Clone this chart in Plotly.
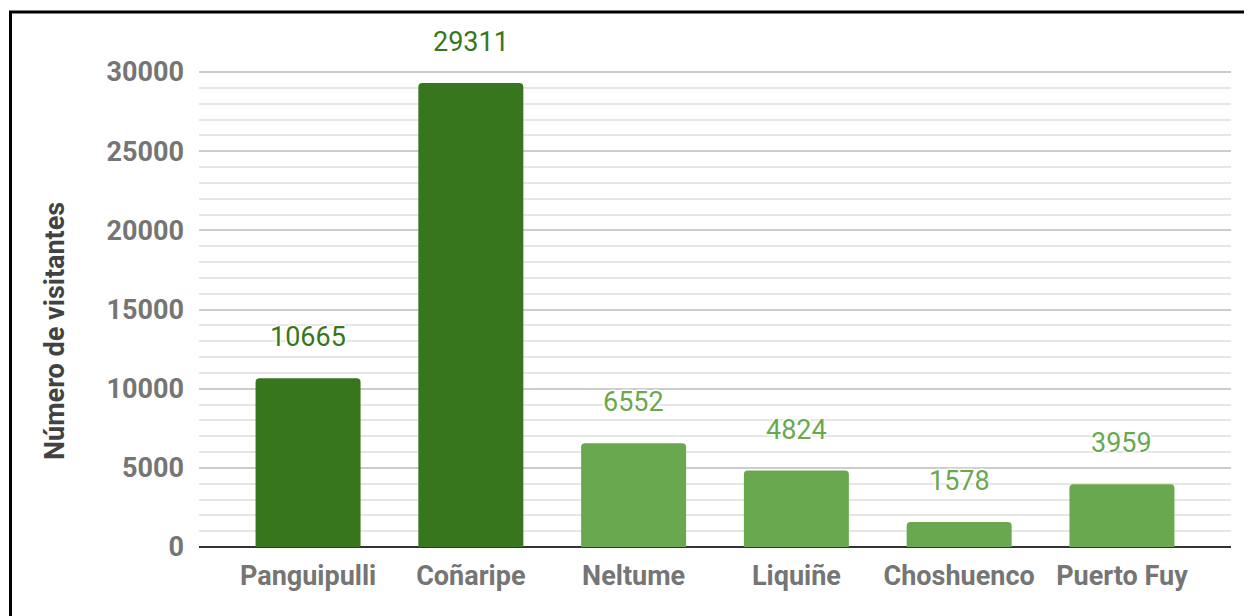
import plotly.graph_objects as go

categories = ["Panguipulli", "Coñaripe", "Neltume", "Liquiñe", "Choshuenco", "Puerto Fuy"]
visitors = [10665, 29311, 6552, 4824, 1578, 3959]
bar_colors = ["#38761d", "#38761d", "#6aa84f", "#6aa84f", "#6aa84f", "#6aa84f"]
y_ticks = [0, 5000, 10000, 15000, 20000, 25000, 30000]
y_title = "Número de visitantes"

W, H = 1252, 616
OFF = 8  # page body margin
ml, mr, mt, mb = 191, 29, 62, 77
pw = W - ml - mr
ph = H - mt - mb
y_top = 30000 * ph / 475.0

fig = go.Figure()
fig.add_trace(go.Bar(
    x=categories, y=visitors,
    marker=dict(color=bar_colors, line=dict(width=0), cornerradius=4),
    width=0.645,
    hoverinfo="x+y",
))

for c, v, col in zip(categories, visitors, bar_colors):
    fig.add_annotation(
        x=c, y=v, text=str(v), showarrow=False,
        yanchor="middle", yshift=41,
        font=dict(family="Roboto", size=27, color=col,
                  shadow="1px 1px 2px white, -1px -1px 2px white, 1px -1px 2px white, -1px 1px 2px white"),
    )

def px_to_paper_x(px):
    return (px - OFF - ml) / pw

def py_to_paper_y(py):
    return (H - mb + OFF - py) / ph

fig.add_annotation(
    xref="paper", yref="paper", x=px_to_paper_x(55), y=py_to_paper_y(331),
    xanchor="center", yanchor="middle", text=y_title, textangle=-90, showarrow=False,
    font=dict(family="Roboto", size=27, color="#424242", weight="bold"),
)

fig.add_shape(
    type="rect", xref="paper", yref="paper",
    x0=px_to_paper_x(10.5), x1=px_to_paper_x(W + 20),
    y0=py_to_paper_y(H + 20), y1=py_to_paper_y(12),
    line=dict(color="black", width=3), fillcolor="rgba(0,0,0,0)", layer="above",
)

fig.update_layout(
    width=W, height=H,
    margin=dict(l=ml, r=mr, t=mt, b=mb, pad=0, autoexpand=False),
    paper_bgcolor="white", plot_bgcolor="white",
    showlegend=False,
    font=dict(family="Roboto"),
    xaxis=dict(
        range=[-0.67, 5.67], showgrid=False, showline=False, zeroline=False,
        tickfont=dict(family="Roboto", size=27, color="#757575", weight="bold"),
        ticks="", ticklabelstandoff=10, automargin=False,
    ),
    yaxis=dict(
        range=[0, y_top], tickvals=y_ticks, ticktext=[str(t) for t in y_ticks],
        showgrid=True, gridcolor="#cccccc", gridwidth=1.5,
        minor=dict(dtick=1000, showgrid=True, gridcolor="#e6e6e6", gridwidth=1.5),
        zeroline=True, zerolinecolor="#333333", zerolinewidth=2,
        showline=False, ticks="", ticklabelstandoff=14, automargin=False,
        tickfont=dict(family="Roboto", size=27, color="#757575", weight="bold"),
    ),
)

fig.write_html("out.html")
